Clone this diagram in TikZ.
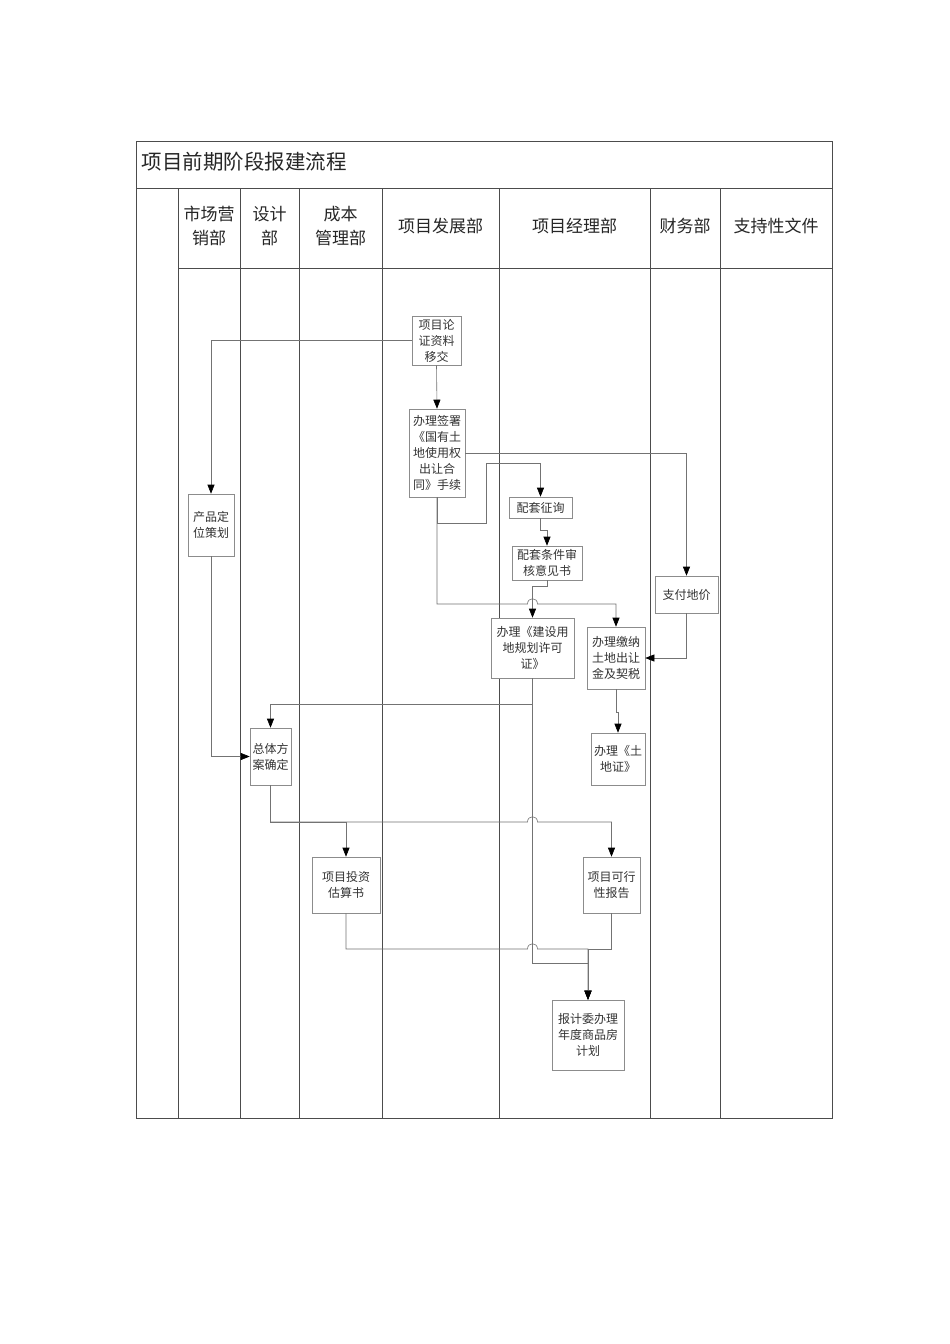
\documentclass[tikz,border=0pt]{standalone}
\usepackage{fontspec}
\newfontfamily\cjk{Noto Sans CJK SC}
\usetikzlibrary{arrows.meta}

\begin{document}
\begin{tikzpicture}[x=1pt,y=-1pt,
    grid/.style={draw=black!70,line width=0.8pt},
    head/.style={font=\cjk\fontsize{17}{24}\selectfont,align=center,text=black!85},
    proc/.style={draw=black!45,line width=0.6pt,fill=white,inner sep=0pt,align=center,text=black!80,font=\cjk\fontsize{12}{16}\selectfont},
    flow/.style={draw=black!55,line width=0.6pt,-{Triangle[width=7pt,length=9pt,color=black]}},
    hop/.style={insert path={.. controls ([yshift=7pt]#1) and ([xshift=10pt,yshift=7pt]#1) .. ([xshift=10pt]#1)}}]
            \fill[white] (0,0) rectangle (950,1344);
            \useasboundingbox (0,0) rectangle (950,1344);
            \draw[grid] (136,141) rectangle (832,1118);
            \draw[grid] (136,188) -- (832,188);
            \draw[grid] (178,268) -- (832,268);
            \foreach \x in {178,240,299,382,499,650,720}
                \draw[grid] (\x,188) -- (\x,1118);
            \node[anchor=west,font=\cjk\fontsize{20.5}{24}\selectfont,text=black!85] (title) at (138,162) {项目前期阶段报建流程};
            \node[head] (mkt) at (209,226) {市场营\\销部};
            \node[head] (dsg) at (269.5,226) {设计\\部};
            \node[head] (cst) at (340.5,226) {成本\\管理部};
            \node[head] (dev) at (440.5,226) {项目发展部};
            \node[head] (pm) at (574.5,226) {项目经理部};
            \node[head] (fin) at (685,226) {财务部};
            \node[head] (doc) at (776,226) {支持性文件};
            \node[proc,minimum width=49,minimum height=49] (A) at (436.5,340.5) {项目论\\证资料\\移交};
            \node[proc,minimum width=56,minimum height=88] (B) at (437,453) {办理签署\\《国有土\\地使用权\\出让合\\同》手续};
            \node[proc,minimum width=46,minimum height=62] (C) at (211,525) {产品定\\位策划};
            \node[proc,minimum width=63,minimum height=21] (D) at (540.5,507.5) {配套征询};
            \node[proc,minimum width=70,minimum height=34] (E) at (547,563) {配套条件审\\核意见书};
            \node[proc,minimum width=63,minimum height=37] (F) at (686.5,594.5) {支付地价};
            \node[proc,minimum width=83,minimum height=60] (G) at (532.5,648) {办理《建设用\\地规划许可\\证》};
            \node[proc,minimum width=58,minimum height=62] (H) at (616,658) {办理缴纳\\土地出让\\金及契税};
            \node[proc,minimum width=41,minimum height=57] (I) at (270.5,756.5) {总体方\\案确定};
            \node[proc,minimum width=54,minimum height=52] (J) at (618,759) {办理《土\\地证》};
            \node[proc,minimum width=68,minimum height=56] (K) at (346,885) {项目投资\\估算书};
            \node[proc,minimum width=57,minimum height=56] (L) at (611.5,885) {项目可行\\性报告};
            \node[proc,minimum width=72,minimum height=70] (M) at (588,1035) {报计委办理\\年度商品房\\计划};
            \coordinate (bd1) at (486,523);
            \coordinate (bd2) at (486,463);
            \coordinate (hopA) at (527.5,604);
            \coordinate (hopB) at (527.5,822);
            \coordinate (hopC) at (527.5,949);
            \draw[flow] (A.west) -| (C.north);
            \draw[flow] (A.south) -- (B.north);
            \draw[flow] (B.east) -| (F.north);
            \draw[flow] (B.south) |- (bd1) -- (bd2) -| (D.north);
            \draw[flow] (D.south) -- ++(0,12) -| (E.north);
            \draw[flow] (E.south) -- ++(0,6) -| (G.north);
            \draw[flow] (B.south) |- (hopA) [hop=hopA] -| (H.north);
            \draw[flow] (F.south) |- (H.east);
            \draw[flow] (H.south) -- ++(0,23) -| (J.north);
            \draw[flow] (G.south) -- ++(0,26) -| (I.north);
            \draw[flow] (C.south) |- (I.west);
            \draw[flow] (I.south) -- ++(0,37) -| (K.north);
            \draw[flow] (I.south) |- (hopB) [hop=hopB] -| (L.north);
            \draw[flow] (G.south) -- ++(0,285) -| (M.north);
            \draw[flow] (K.south) |- (hopC) [hop=hopC] -| (M.north);
            \draw[flow] (L.south) -- ++(0,36) -| (M.north);
        \end{tikzpicture}
\end{document}
